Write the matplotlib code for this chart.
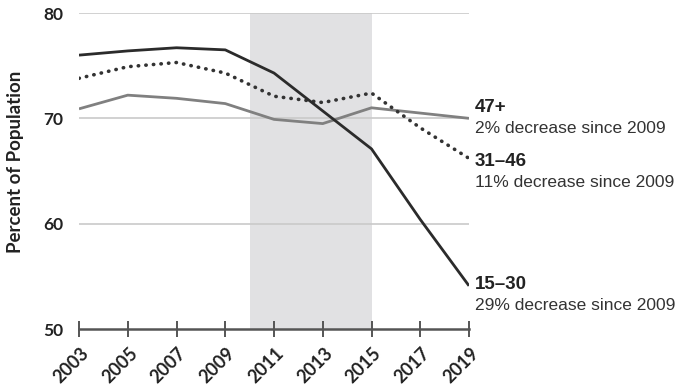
import matplotlib
matplotlib.use("Agg")
import matplotlib.pyplot as plt
import matplotlib.transforms as mtransforms

years = [2003, 2005, 2007, 2009, 2011, 2013, 2015, 2017, 2019]
age_15_30 = [76.0, 76.4, 76.7, 76.5, 74.3, 70.7, 67.1, 60.4, 54.1]
age_31_46 = [73.8, 74.9, 75.3, 74.3, 72.1, 71.5, 72.4, 69.1, 66.2]
age_47_plus = [70.9, 72.2, 71.9, 71.4, 69.9, 69.5, 71.0, 70.5, 70.0]
y_ticks = [50, 60, 70, 80]
shade_start, shade_end = 2010, 2015

labels = [
    ("47+", "2% decrease since 2009"),
    ("31\u201346", "11% decrease since 2009"),
    ("15\u201330", "29% decrease since 2009"),
]

fig = plt.figure(figsize=(6.83, 3.90), dpi=100)
ax = fig.add_axes([79/683, 61/390, 390/683, 316/390])
ax.set_xlim(2003, 2019)
ax.set_ylim(50, 80)

ax.axvspan(shade_start, shade_end, color="#e1e1e3", zorder=0, lw=0)
for yv in y_ticks[1:]:
    ax.axhline(yv, color="#c9c9c9", lw=1.2, zorder=1)

ax.plot(years, age_47_plus, color="#808080", lw=2.0, zorder=3, solid_capstyle="butt")
ax.plot(years, age_31_46, color="#333333", lw=2.6, linestyle=(0, (0.1, 2.0)),
        dash_capstyle="round", zorder=3)
ax.plot(years, age_15_30, color="#2b2b2b", lw=2.0, zorder=4, solid_capstyle="butt")

for s in ["top", "right", "left"]:
    ax.spines[s].set_visible(False)
ax.spines["bottom"].set_color("#555555")
ax.spines["bottom"].set_linewidth(1.8)

ax.set_xticks(years)
ax.set_xticklabels([str(y) for y in years], rotation=45, ha="right",
                   rotation_mode="anchor", fontsize=13, fontweight="bold",
                   family="Lato", color="#222222")
ax.tick_params(axis="x", direction="inout", length=12, width=1.4,
               color="#555555", pad=5)
shift = mtransforms.ScaledTranslation(1/100, 0, fig.dpi_scale_trans)
for lab in ax.get_xticklabels():
    lab.set_transform(lab.get_transform() + shift)

ax.set_yticks(y_ticks)
ax.set_yticklabels([str(v) for v in y_ticks], fontsize=12.5, fontweight="bold",
                   family="Lato", color="#222222")
ax.tick_params(axis="y", length=0, pad=11)

ax.set_ylabel("Percent of Population", fontsize=13.5, fontweight="bold",
              family="Lato", color="#222222")
ax.yaxis.set_label_coords(-0.14, 0.53)

ends = [age_47_plus[-1], age_31_46[-1], age_15_30[-1]]
title_off = [11, -3.5, 1.5]
gap = 21
for (title, desc), yend, off in zip(labels, ends, title_off):
    ax.annotate(title, xy=(2019, yend), xytext=(6, off),
                textcoords="offset pixels", fontsize=13.5, fontweight="bold",
                family=["Liberation Sans", "DejaVu Sans"], color="#222222",
                va="center", ha="left", annotation_clip=False)
    ax.annotate(desc, xy=(2019, yend), xytext=(6, off - gap),
                textcoords="offset pixels", fontsize=12.5,
                family=["Liberation Sans", "DejaVu Sans"], color="#333333",
                va="center", ha="left", annotation_clip=False)

fig.savefig("out.png", dpi=100)
